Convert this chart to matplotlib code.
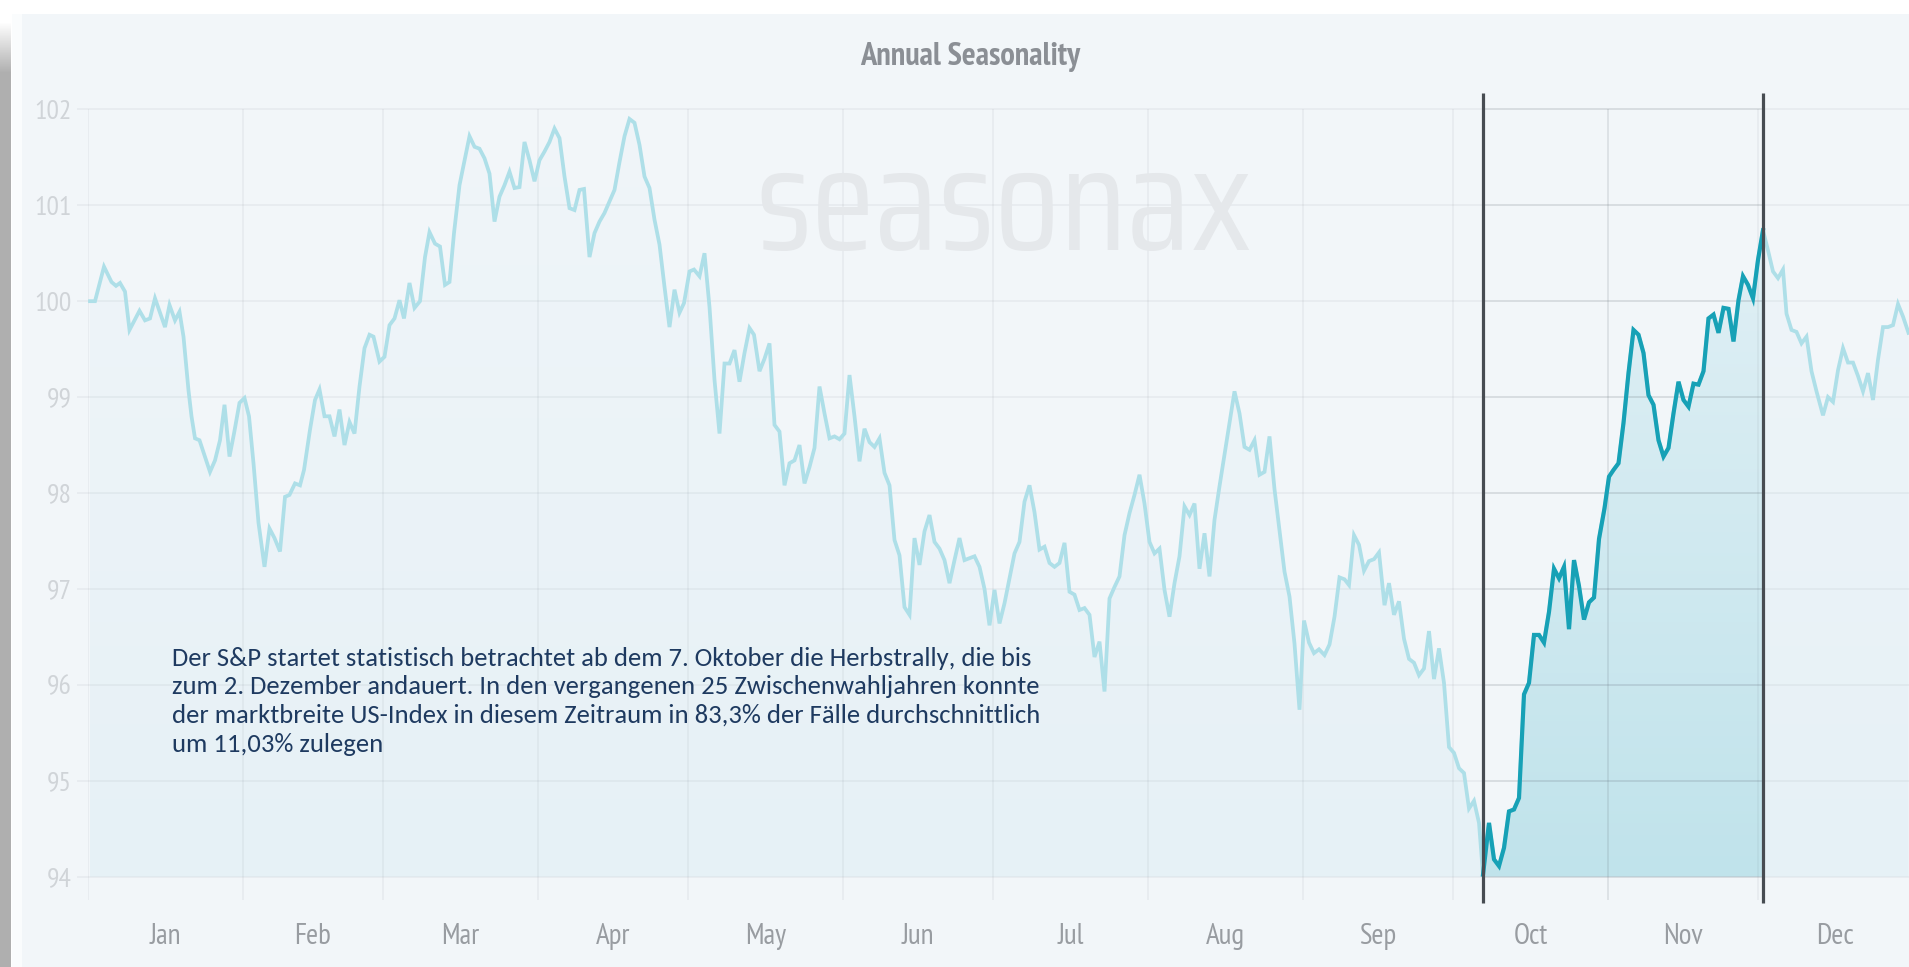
import numpy as np
import matplotlib.pyplot as plt
from matplotlib import font_manager
from matplotlib.colors import LinearSegmentedColormap
from matplotlib.patches import Rectangle, PathPatch

W, H = 1909, 967

# seasonal curve: day of year -> index level
day = [
    # Jan / Feb
    0.4, 1.4, 3.2, 4.7, 5.6, 6.4, 7.4, 8.3, 9.3, 10.3, 11.4, 12.4, 13.4, 14.4, 15.4, 16.3,
    17.4, 18.3, 19.1, 20.1, 20.7, 21.4, 22.3, 23.2, 24.4, 25.4, 26.4, 27.3, 28.3, 29.2, 30.3,
    31.3, 32.2, 33.1, 34.1, 35.3, 36.3, 37.3, 38.4, 39.4, 40.3, 41.4, 42.4, 43.2, 44.4, 45.4,
    46.3, 47.3, 48.3, 49.3, 50.3, 51.3, 52.3, 53.3, 54.3, 55.3, 56.3, 57.1, 58.3, 59.3, 60.3,
    61.3, 62.3,
    # Mar / Apr
    63.2, 64.3, 65.3, 66.4, 67.4, 68.3, 69.4, 70.4, 71.4, 72.3, 73.2, 74.3, 75.4, 76.3, 77.3,
    78.3, 79.3, 80.3, 81.3, 82.3, 83.3, 84.3, 85.3, 86.3, 87.3, 88.3, 89.3, 90.3, 91.3, 92.3,
    93.3, 94.3, 95.3, 96.3, 97.3, 98.3, 99.2, 100.3, 101.3, 102.3, 103.3, 104.3, 105.3, 106.3,
    107.3, 108.3, 109.3, 110.3, 111.3, 112.3, 113.3, 114.3, 115.3, 116.3, 117.3, 118.3,
    # May / Jun
    119.2, 120.3, 121.2, 122.3, 123.3, 124.3, 125.3, 126.3, 127.3, 128.3, 129.3, 130.3, 131.3,
    132.3, 133.2, 134.3, 135.3, 136.3, 137.3, 138.3, 139.3, 140.3, 141.3, 142.3, 143.3, 144.3,
    145.3, 146.3, 147.3, 148.3, 149.3, 150.3, 151.3, 152.3, 153.3, 154.3, 155.3, 156.3, 157.3,
    158.3, 159.3, 160.3, 161.3, 162.3, 163.3, 164.3, 165.3, 166.3, 167.3, 168.3, 169.3, 170.3,
    171.3, 172.3, 173.3, 174.3, 175.3, 176.3, 177.3, 178.3,
    # Jul / Aug
    179.3, 180.3, 181.3, 182.3, 183.3, 184.3, 185.3, 186.3, 187.3, 188.3, 189.3, 190.3, 191.3,
    192.3, 193.3, 194.3, 195.3, 196.3, 197.3, 198.3, 199.3, 200.3, 201.3, 202.3, 203.3, 204.3,
    205.3, 206.3, 207.3, 208.3, 209.3, 210.3, 211.3, 212.3, 213.3, 214.3, 215.3, 216.3, 217.3,
    218.3, 219.3, 220.3, 221.3, 222.3, 223.3, 224.3, 225.3, 226.3, 227.3, 228.3, 229.3, 230.3,
    231.3, 232.3, 233.3, 234.3, 235.3, 236.3, 237.3, 238.3, 239.3, 240.3, 241.3, 242.3,
    # Sep / early Oct
    243.2, 244.2, 245.2, 246.2, 247.3, 248.3, 249.3, 250.3, 251.3, 252.2, 253.2, 254.2, 255.2,
    256.2, 257.2, 258.2, 259.3, 260.2, 261.2, 262.2, 263.2, 264.2, 265.2, 266.2, 267.2, 268.2,
    269.2, 270.2, 271.2, 272.2, 273.2, 274.2, 275.2, 276.2, 277.2, 278.2, 279.0,
    # Oct / Nov rally
    280.2, 281.2, 282.2, 283.2, 284.2, 285.2, 286.2, 287.2, 288.2, 289.2, 290.2, 291.2, 292.2,
    293.2, 294.2, 295.2, 296.2, 297.2, 298.2, 299.2, 300.2, 301.2, 302.2, 303.3, 304.2,
    305.1, 306.1, 307.1, 308.1, 309.1, 310.1, 311.1, 312.1, 313.1, 314.1, 315.1, 316.1, 317.1,
    318.1, 319.1, 320.1, 321.1, 322.1, 323.1, 324.1, 325.1, 326.1, 327.1, 328.1, 329.1, 330.1,
    331, 332, 333, 334, 335,
    # Dec
    336, 337, 338, 339, 339.7, 340.7, 341.7, 342.7, 343.7, 344.7, 345.7, 347, 348, 349, 350,
    351, 352, 353, 354, 355, 356, 357, 358, 359, 360, 361, 362, 363, 364.1,
]
level = [
    100.0, 100.0, 100.36, 100.20, 100.16, 100.19, 100.10, 99.70, 99.80, 99.90, 99.80, 99.82,
    100.03, 99.88, 99.73, 99.96, 99.80, 99.89, 99.63, 99.07, 98.80, 98.57, 98.55, 98.41, 98.22,
    98.34, 98.55, 98.92, 98.38, 98.62, 98.94, 98.99, 98.80, 98.31, 97.69, 97.23, 97.63, 97.53,
    97.39, 97.96, 97.98, 98.10, 98.08, 98.24, 98.66, 98.97, 99.08, 98.80, 98.80, 98.59, 98.87,
    98.50, 98.74, 98.62, 99.11, 99.51, 99.65, 99.63, 99.37, 99.42, 99.75, 99.82, 100.01,
    99.82, 100.19, 99.93, 100.0, 100.46, 100.72, 100.60, 100.57, 100.17, 100.20, 100.71, 101.21,
    101.49, 101.72, 101.61, 101.59, 101.49, 101.33, 100.83, 101.09, 101.21, 101.35, 101.18,
    101.19, 101.66, 101.47, 101.25, 101.47, 101.56, 101.66, 101.80, 101.70, 101.30, 100.97,
    100.95, 101.16, 101.17, 100.46, 100.71, 100.83, 100.92, 101.04, 101.16, 101.45, 101.72,
    101.90, 101.86, 101.63, 101.30, 101.18, 100.85, 100.59, 100.15, 99.73, 100.12, 99.88,
    99.98, 100.31, 100.33, 100.26, 100.50, 99.94, 99.18, 98.62, 99.35, 99.35, 99.49, 99.16,
    99.46, 99.72, 99.65, 99.27, 99.40, 99.56, 98.71, 98.64, 98.08, 98.31, 98.34, 98.50, 98.10,
    98.27, 98.47, 99.11, 98.83, 98.57, 98.59, 98.56, 98.62, 99.23, 98.80, 98.33, 98.67, 98.53,
    98.48, 98.57, 98.21, 98.08, 97.51, 97.35, 96.81, 96.73, 97.53, 97.25, 97.60, 97.77, 97.49,
    97.42, 97.30, 97.06, 97.30, 97.53, 97.30, 97.32, 97.34, 97.23,
    97.0, 96.62, 96.99, 96.64, 96.85, 97.11, 97.37, 97.49, 97.91, 98.08, 97.80, 97.41, 97.44,
    97.27, 97.23, 97.27, 97.48, 96.97, 96.94, 96.78, 96.80, 96.73, 96.29, 96.45, 95.93, 96.90,
    97.02, 97.13, 97.56, 97.79, 97.98, 98.19, 97.89, 97.49, 97.37, 97.42, 96.99, 96.71, 97.06,
    97.34, 97.86, 97.77, 97.89, 97.21, 97.58, 97.13, 97.72, 98.07, 98.40, 98.73, 99.06, 98.83,
    98.48, 98.45, 98.55, 98.19, 98.22, 98.59, 98.04, 97.61, 97.18, 96.92, 96.43, 95.74,
    96.67, 96.44, 96.33, 96.37, 96.31, 96.42, 96.71, 97.12, 97.10, 97.04, 97.56, 97.46, 97.19,
    97.29, 97.31, 97.38, 96.83, 97.06, 96.73, 96.87, 96.48, 96.27, 96.23, 96.10, 96.17, 96.56,
    96.06, 96.38, 96.02, 95.35, 95.29, 95.13, 95.08, 94.71, 94.79, 94.56, 94.02,
    94.56, 94.18, 94.11, 94.30, 94.68, 94.70, 94.82, 95.90, 96.02, 96.52, 96.52, 96.44, 96.76,
    97.21, 97.11, 97.23, 96.58, 97.30, 97.03, 96.68, 96.86, 96.91, 97.52, 97.84, 98.17,
    98.24, 98.31, 98.73, 99.25, 99.70, 99.65, 99.46, 99.02, 98.92, 98.55, 98.38, 98.47, 98.83,
    99.16, 98.97, 98.90, 99.14, 99.13, 99.27, 99.82, 99.86, 99.67, 99.93, 99.92, 99.58, 100.01,
    100.26, 100.17, 100.03, 100.43, 100.74,
    100.53, 100.31, 100.24, 100.33, 99.87, 99.70, 99.68, 99.56, 99.63, 99.27, 99.06, 98.81,
    99.00, 98.95, 99.28, 99.51, 99.36, 99.36, 99.22, 99.06, 99.25, 98.97, 99.39, 99.73, 99.73,
    99.75, 99.97, 99.84, 99.67,
]

months = ["Jan", "Feb", "Mar", "Apr", "May", "Jun", "Jul", "Aug", "Sep", "Oct", "Nov", "Dec"]
month_start = [0, 31, 59, 90, 120, 151, 181, 212, 243, 273, 304, 334, 365]
y_ticks = [94, 95, 96, 97, 98, 99, 100, 101, 102]
window = (279.0, 335.0)   # 7 Oct .. 2 Dec

title = "Annual Seasonality"
brand = "seasonax"
note = [
    "Der S&P startet statistisch betrachtet ab dem 7. Oktober die Herbstrally, die bis",
    "zum 2. Dezember andauert. In den vergangenen 25 Zwischenwahljahren konnte",
    "der marktbreite US-Index in diesem Zeitraum in 83,3% der F\u00e4lle durchschnittlich",
    "um 11,03% zulegen",
]

installed = {f.name for f in font_manager.fontManager.ttflist}


def pick(*cands):
    for c in cands:
        if c in installed:
            return c
    return "DejaVu Sans"


narrow = pick("PT Sans Narrow", "Roboto Condensed", "Fira Sans Condensed", "Archivo Narrow",
              "Asap Condensed", "Barlow Condensed")
body = pick("Carlito", "Lato", "Open Sans")
logo = pick("Saira Condensed", "Saira ExtraCondensed", "Rajdhani", "Teko", "Barlow Condensed")


def fx(x):
    return x / W


def fy(y):
    return 1 - y / H


fig = plt.figure(figsize=(W / 100, H / 100), dpi=100)
fig.patch.set_facecolor("white")
r = fig.canvas.get_renderer()


def fit(t, width):
    # scale a text so its rendered width matches the source
    w = t.get_window_extent(r).width
    t.set_fontsize(t.get_fontsize() * width / w)


# panel background + left inner strip
fig.patches.append(Rectangle((fx(12), 0), 1, fy(14), transform=fig.transFigure,
                             facecolor="#f2f6f9", edgecolor="none", zorder=-10))
fig.patches.append(Rectangle((fx(12), 0), fx(10), fy(14), transform=fig.transFigure,
                             facecolor="#fafcfd", edgecolor="none", zorder=-9))

# grey shadow band on the left edge, fading in at the top
band = fig.add_axes([0, 0, fx(11), 1])
rows = np.arange(H)
g = np.clip((rows - 22) / 50.0, 0, 1)
shade = 1 - g * (1 - 0.69)
band.imshow(np.repeat(shade[:, None, None], 3, axis=2), aspect="auto", extent=[0, 1, 0, 1])
band.axis("off")

# watermark
wm = fig.text(fx(755), fy(250), brand, ha="left", va="baseline", fontsize=100,
              color="#e5e8eb", family=logo, zorder=0.5)
fit(wm, 1252 - 755)

ax = fig.add_axes([fx(88), fy(905), (1913 - 88) / W, 815 / H])
ax.patch.set_alpha(0)
for s in ax.spines.values():
    s.set_visible(False)

x = np.array(day)
y = np.array(level)


def gradient_fill(xs, ys, c_top, c_bottom, z):
    poly = ax.fill_between(xs, ys, 94, facecolor="none", edgecolor="none")
    patch = PathPatch(poly.get_paths()[0], transform=ax.transData,
                      facecolor="none", edgecolor="none")
    ax.add_patch(patch)
    cmap = LinearSegmentedColormap.from_list("grad", [c_bottom, c_top])
    img = ax.imshow(np.linspace(0, 1, 256).reshape(-1, 1), cmap=cmap, aspect="auto",
                    extent=[xs.min(), xs.max(), 94, 102], origin="lower", zorder=z)
    img.set_clip_path(patch)


gradient_fill(x, y, "#f0f5f9", "#e6f1f6", 1)
sel = (x >= window[0]) & (x <= window[1])
gradient_fill(x[sel], y[sel], "#e6f2f7", "#c0e3eb", 2)

# grid
ax.vlines(month_start[:12], 93.756, 102, color="#5a6570", alpha=0.07, lw=1.3, zorder=3)
ax.hlines(y_ticks, -2.2, 365, color="#5a6570", alpha=0.07, lw=1.3, zorder=3, clip_on=False)
ax.hlines(y_ticks, window[0], window[1], color="#5a6570", alpha=0.12, lw=1.3, zorder=3)
ax.vlines(month_start[10], 93.756, 102, color="#5a6570", alpha=0.08, lw=1.3, zorder=3)

# curve
ax.plot(x, y, color="#aedfe8", lw=2.7, zorder=4, solid_joinstyle="miter")
ax.plot(x[sel], y[sel], color="#17a1b6", lw=3.0, zorder=5, solid_joinstyle="miter")

# window markers
ax.vlines(window, 93.72, 102.17, color="#474c52", lw=2.3, zorder=6, clip_on=False)

ax.set_xlim(0, 365)
ax.set_ylim(93.704, 102.202)
mids = [(a + b) / 2 for a, b in zip(month_start[:-1], month_start[1:])]
ax.set_xticks(mids)
ax.set_xticklabels(months, family=narrow, fontsize=21, color="#989ca1")
ax.set_yticks(y_ticks)
ax.set_yticklabels([str(v) for v in y_ticks], family=narrow, fontsize=20, color="#d0d4d8")
ax.tick_params(axis="x", length=0, pad=13)
ax.tick_params(axis="y", length=0, pad=11.5)

tt = fig.text(fx(970), fy(57), title, ha="center", va="center", fontsize=20,
              fontweight="bold", color="#8b8f95", family=narrow)
fit(tt, 221)

# annotation, sized so the first line spans the same width as in the source
texts = [fig.text(fx(172), fy(666 + 28.5 * i), line, ha="left", va="baseline",
                  fontsize=16, color="#1e3a60", family=body, zorder=10)
         for i, line in enumerate(note)]
w0 = texts[0].get_window_extent(r).width
for t in texts:
    t.set_fontsize(16 * 858 / w0)

fig.savefig("out.png", dpi=100)
